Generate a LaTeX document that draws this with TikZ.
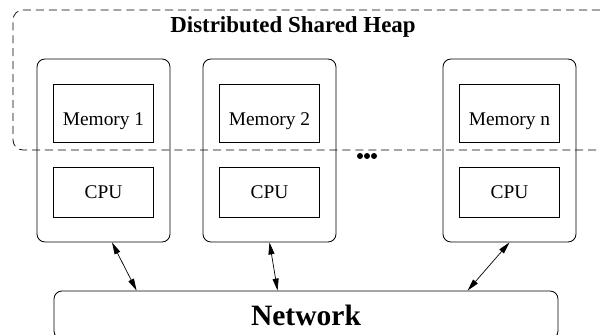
\documentclass[tikz,border=0pt]{standalone}
\usepackage{fontspec}
\setmainfont{Liberation Serif}
\usepackage{tikz}
\usetikzlibrary{arrows.meta}

\tikzset{
    nodebox/.style={draw, line width=0.6pt, rounded corners=0.2cm, minimum width=3.325cm, minimum height=4.575cm, inner sep=0pt},
    membox/.style={draw, line width=0.6pt, minimum width=2.5cm, minimum height=1.45cm, inner sep=0pt, font=\fontsize{13.8}{16}\selectfont},
    memlabel/.style={font=\fontsize{13.8}{16}\selectfont, yshift=-0.2cm},
    conn/.style={{Triangle[length=3mm,width=1.5mm]}-{Triangle[length=3mm,width=1.5mm]}, line width=0.5pt}
}

\begin{document}
\begin{tikzpicture}
        \useasboundingbox (0,0) rectangle (15,8.375);
        % shared heap
        \node[draw, dashed, dash pattern=on 5.7pt off 3.5pt, line width=0.5pt, rounded corners=0.25cm, minimum width=14.925cm, minimum height=3.5cm] (heap) at (7.7875,6.375) {};
        \node[font=\fontsize{16.3}{19}\selectfont\bfseries] (title) at (7.325,7.7) {Distributed Shared Heap};
        % the machines
        \foreach \i/\x in {1/2.5875, 2/6.7375, n/12.7375} {
            \node[nodebox] (node\i) at (\x,4.6125) {};
            \node[membox, label={[memlabel]center:Memory \i}] (mem\i) at (\x,5.55) {};
            \node[membox, minimum height=1.25cm] (cpu\i) at (\x,3.575) {\raisebox{-0.03cm}{CPU}};
        }
        % dots
        \foreach \d in {0,1,2}
            \fill (9.0+0.175*\d,4.475) circle (0.075);
        % network
        \node[draw, line width=0.6pt, rounded corners=0.2cm, minimum width=12.6cm, minimum height=1.2cm, inner sep=0pt, font=\fontsize{21}{24}\selectfont\bfseries] (net) at (7.65,0.5) {Network};
        \draw[conn] ([xshift=0.2125cm]node1.south) -- ([xshift=2.075cm]net.north west);
        \draw[conn] (node2.south) -- ([xshift=5.6cm]net.north west);
        \draw[conn] (noden.south) -- ([xshift=10.35cm]net.north west);
    \end{tikzpicture}
\end{document}
